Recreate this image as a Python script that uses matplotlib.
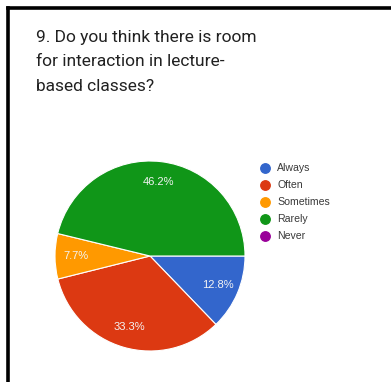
import numpy as np
import matplotlib.pyplot as plt
from matplotlib.lines import Line2D

# datos
labels = ["Always", "Often", "Sometimes", "Rarely", "Never"]
values = [12.8, 33.3, 7.7, 46.2, 0.0]
colors = ["#3366cc", "#dc3912", "#ff9900", "#109618", "#990099"]
title = "9. Do you think there is room\nfor interaction in lecture-\nbased classes?"

W, H = 391, 382
fig = plt.figure(figsize=(W / 100, H / 100), dpi=100)
fig.patch.set_facecolor("white")

# marco negro (solo arriba e izquierda)
fig.add_artist(Line2D([7.5 / W, 1], [1 - 7.5 / H, 1 - 7.5 / H], color="black", lw=2.6,
                      transform=fig.transFigure))
fig.add_artist(Line2D([7.5 / W, 7.5 / W], [0, 1 - 7.5 / H], color="black", lw=2.6,
                      transform=fig.transFigure))

# titulo
fig.text(36 / W, 1 - 30 / H, title, ha="left", va="top", fontsize=12.5,
         family="Roboto", color="#212121", linespacing=1.78)

# pie: centro (150, 256), radio 95 px
cx, cy, r = 150, 256, 95
ax = fig.add_axes([(cx - r) / W, 1 - (cy + r) / H, 2 * r / W, 2 * r / H])
nz = [v for v in values if v > 0]
nzc = [c for v, c in zip(values, colors) if v > 0]
wedges, texts, autotexts = ax.pie(
    nz, colors=nzc, startangle=0, counterclock=False,
    autopct=lambda p: f"{p:.1f}%", pctdistance=0.78,
    wedgeprops=dict(edgecolor="white", linewidth=0.8),
    textprops=dict(color="#f4f4f4", fontsize=8, family="Liberation Sans"))
ax.set_aspect("equal")
ax.set_xlim(-1, 1)
ax.set_ylim(-1, 1)

# leyenda
for i, (lab, c) in enumerate(zip(labels, colors)):
    y = 1 - (168 + 17 * i) / H
    fig.add_artist(Line2D([265 / W], [y], marker="o", markersize=6.8, color=c,
                          transform=fig.transFigure))
    fig.text(277 / W, y, lab, ha="left", va="center", fontsize=7.6,
             family="Liberation Sans", color="#3a3a3a")

fig.savefig("out.png", dpi=100, facecolor="white")
